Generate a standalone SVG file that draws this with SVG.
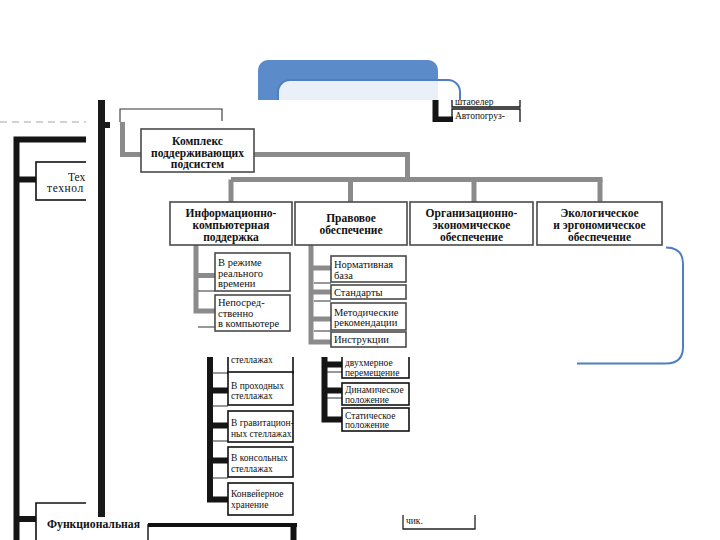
<svg xmlns="http://www.w3.org/2000/svg" width="720" height="540" viewBox="0 0 720 540">
<defs>
<style>
text{font-family:'Liberation Serif','Times New Roman','DejaVu Serif',serif;fill:#111}
.b{font-weight:bold}
.s12{font-size:11.5px}
.s11{font-size:10.5px}
.s10{font-size:9.5px}
.mid{text-anchor:middle}
.box{fill:#fff;stroke:#4a4a4a;stroke-width:1.6}
.bx{fill:#fff;stroke:#111;stroke-width:1.6}
.g{fill:none;stroke:#8b8b8b;stroke-width:5}
.k{fill:none;stroke:#151515;stroke-width:6}
.thin{fill:none;stroke:#333;stroke-width:1.1}
</style>
<clipPath id="cl"><rect x="0" y="0" width="86" height="540"/></clipPath>
<clipPath id="cb"><rect x="0" y="357" width="720" height="183"/></clipPath>
<clipPath id="ct"><rect x="428" y="100" width="100" height="22"/></clipPath>
<clipPath id="cc"><rect x="0" y="515" width="720" height="25"/></clipPath>
</defs>
<rect width="720" height="540" fill="#fff"/>

<!-- blue slide decoration -->
<g id="blue">
<path d="M258,100 V70 a10,10 0 0 1 10,-10 H428 a10,10 0 0 1 10,10 V100 Z" fill="#5b8bc8"/>
<rect x="278" y="80" width="182" height="60" rx="12" fill="#fff" fill-opacity="0.87" stroke="#4f7fbe" stroke-width="2"/>
</g>

<!-- left background scan -->
<g id="bg-left">
<line x1="0" y1="122" x2="86" y2="122" stroke="#c4c4c4" stroke-width="1.5" stroke-dasharray="7 5"/>
<path class="k" d="M86,139.5 H16.5 V540"/>
<path class="k" d="M16.5,179.5 H36"/>
<path class="k" d="M16.5,519 H36"/>
<g id="n-tech" clip-path="url(#cl)">
<rect class="bx" x="36" y="162" width="80" height="38" stroke-width="1.4"/>
<text class="s12" x="68" y="181">Тех</text>
<text class="s12" x="47" y="192" letter-spacing="0.6">технол</text>
</g>
<g id="n-func">
<path d="M86,503 H36 V540" fill="none" stroke="#111" stroke-width="1.6"/>
</g>
</g>

<!-- main white panel -->
<rect x="86" y="100" width="634" height="417" fill="#fff"/>
<rect x="98" y="100" width="7" height="417" fill="#1a1a1a"/>
<rect x="105" y="122" width="5" height="6" fill="#1a1a1a"/>

<!-- top-right snippet -->
<g id="n-snippet" clip-path="url(#ct)">
<path class="k" d="M435.5,100 V119.5 H453" stroke-width="5"/>
<path d="M452,90 V107 H520 V90" fill="none" stroke="#111" stroke-width="1.3"/>
<text class="s10" x="455" y="105">штабелер</text>
<path d="M452,125 V109 H520 V125" fill="none" stroke="#111" stroke-width="1.3"/>
<text class="s10" x="455" y="119">Автопогруз-</text>
</g>

<!-- connectors -->
<g id="connectors">
<path class="thin" d="M120,122 V109 H222 V121" stroke-width="1.5"/>
<path class="g" d="M122.5,122 V154.5 H141"/>
<path class="g" d="M254,154.5 H407.5 V179.5"/>
<path class="g" d="M231,179.5 H602.5"/>
<path class="g" d="M231,179.5 V202"/>
<path class="g" d="M350.5,179.5 V202"/>
<path class="g" d="M474,179.5 V202"/>
<path class="g" d="M600,179.5 V202"/>
<path class="g" d="M196,245 V311 H215"/>
<path class="g" d="M196,275.5 H215"/>
<path class="thin" stroke="#999" d="M198,291 H215 M198,327 H215"/>
<path class="g" d="M311,245 V342 H331" stroke-width="6"/>
<path class="g" d="M311,268 H331 M311,292 H331 M311,319 H331"/>
<path class="thin" stroke="#999" d="M314,283 H331 M314,301 H331 M314,331 H331"/>
<g clip-path="url(#cb)">
<path class="k" d="M210,350 V499.5 H228"/>
<path class="k" d="M210,390.5 H228 M210,425.5 H228 M210,460.5 H228" stroke-width="5"/>
<path class="thin" d="M212,373 H228 M212,406 H228 M212,441 H228 M212,478 H228"/>
<path class="k" d="M324.5,350 V419.5 H342" stroke-width="5"/>
<path class="k" d="M324.5,364.5 H342 M324.5,390.5 H342" stroke-width="5"/>
<path class="thin" d="M327,372 H342 M327,398 H342"/>
</g>
</g>

<!-- top level -->
<g id="n-complex">
<rect class="box" x="141" y="129" width="113" height="43"/>
<text class="s12 b mid" x="197.5" y="145">Комплекс</text>
<text class="s12 b mid" x="197.5" y="157">поддерживающих</text>
<text class="s12 b mid" x="197.5" y="168">подсистем</text>
</g>
<g id="n-info">
<rect class="box" x="170" y="202" width="122" height="43"/>
<text class="s12 b mid" x="231" y="217">Информационно-</text>
<text class="s12 b mid" x="231" y="229">компьютерная</text>
<text class="s12 b mid" x="231" y="241">поддержка</text>
</g>
<g id="n-legal">
<rect class="box" x="295" y="202" width="112" height="43"/>
<text class="s12 b mid" x="351" y="222">Правовое</text>
<text class="s12 b mid" x="351" y="234">обеспечение</text>
</g>
<g id="n-org">
<rect class="box" x="410" y="202" width="123" height="43"/>
<text class="s12 b mid" x="471.5" y="217">Организационно-</text>
<text class="s12 b mid" x="471.5" y="229">экономическое</text>
<text class="s12 b mid" x="471.5" y="241">обеспечение</text>
</g>
<g id="n-eco">
<rect class="box" x="537" y="202" width="125" height="43"/>
<text class="s12 b mid" x="599.5" y="217">Экологическое</text>
<text class="s12 b mid" x="599.5" y="229">и эргономическое</text>
<text class="s12 b mid" x="599.5" y="241">обеспечение</text>
</g>

<!-- info subitems -->
<g id="n-realtime">
<rect class="box" x="215" y="253" width="75" height="38"/>
<text class="s11" x="218" y="266">В режиме</text>
<text class="s11" x="218" y="276.5">реального</text>
<text class="s11" x="218" y="287">времени</text>
</g>
<g id="n-direct">
<rect class="box" x="215" y="295" width="75" height="36"/>
<text class="s11" x="218" y="306">Непосред-</text>
<text class="s11" x="218" y="316.5">ственно</text>
<text class="s11" x="218" y="327">в компьютере</text>
</g>

<!-- legal subitems -->
<g id="n-norm">
<rect class="box" x="331" y="256" width="75" height="26" stroke="#222"/>
<text class="s11" x="334" y="268">Нормативная</text>
<text class="s11" x="334" y="279">база</text>
</g>
<g id="n-std">
<rect class="box" x="331" y="285" width="75" height="14" stroke="#222"/>
<text class="s11" x="334" y="296">Стандарты</text>
</g>
<g id="n-method">
<rect class="box" x="331" y="303" width="75" height="27" stroke="#222"/>
<text class="s11" x="334" y="315.5">Методические</text>
<text class="s11" x="334" y="326">рекомендации</text>
</g>
<g id="n-instr">
<rect class="box" x="331" y="332" width="75" height="15" stroke="#222"/>
<text class="s11" x="334" y="343">Инструкции</text>
</g>

<!-- lower black layer -->
<g clip-path="url(#cb)">
<g id="n-racks0">
<rect class="bx" x="228" y="340" width="65" height="33"/>
<text class="s10" x="231" y="363">стеллажах</text>
</g>
<g id="n-racks1">
<rect class="bx" x="228" y="372" width="65" height="33"/>
<text class="s10" x="231" y="389">В проходных</text>
<text class="s10" x="231" y="399">стеллажах</text>
</g>
<g id="n-racks2">
<rect class="bx" x="228" y="411" width="65" height="31"/>
<text class="s10" x="231" y="426">В гравитацион-</text>
<text class="s10" x="231" y="437">ных стеллажах</text>
</g>
<g id="n-racks3">
<rect class="bx" x="228" y="447" width="65" height="30"/>
<text class="s10" x="231" y="461">В консольных</text>
<text class="s10" x="231" y="472">стеллажах</text>
</g>
<g id="n-conv">
<rect class="bx" x="228" y="483" width="65" height="32"/>
<text class="s10" x="231" y="497">Конвейерное</text>
<text class="s10" x="231" y="508">хранение</text>
</g>
<g id="n-2d">
<rect class="bx" x="342" y="345" width="67" height="33"/>
<text class="s10" x="345" y="366">двухмерное</text>
<text class="s10" x="345" y="375.5">перемещение</text>
</g>
<g id="n-dyn">
<rect class="bx" x="342" y="383" width="67" height="22"/>
<text class="s10" x="345" y="393">Динамическое</text>
<text class="s10" x="345" y="402.5">положение</text>
</g>
<g id="n-stat">
<rect class="bx" x="342" y="408" width="67" height="23"/>
<text class="s10" x="345" y="418.5">Статическое</text>
<text class="s10" x="345" y="428">положение</text>
</g>
</g>

<!-- bottom -->
<g id="n-func-label">
<text class="s12 b" x="47" y="528" textLength="93" lengthAdjust="spacingAndGlyphs">Функциональная</text>
</g>
<g id="n-bottom-box">
<path d="M148,540 V525 H293.5 V540" fill="none" stroke="#111" stroke-width="1.4"/>
<path d="M148,525 H297" stroke="#111" stroke-width="4"/>
<path d="M293.5,523 V540" stroke="#111" stroke-width="6"/>
</g>
<g id="n-chik" clip-path="url(#cc)">
<path d="M403,510 V529 H475 V510" fill="none" stroke="#222" stroke-width="1.3"/>
<text class="s10" x="406" y="524">чик.</text>
</g>

<!-- blue bracket -->
<path d="M666,247.5 Q683,247.5 683,264 V347 Q683,363.5 666,363.5 H577" fill="none" stroke="#4f7fbe" stroke-width="2"/>
</svg>
